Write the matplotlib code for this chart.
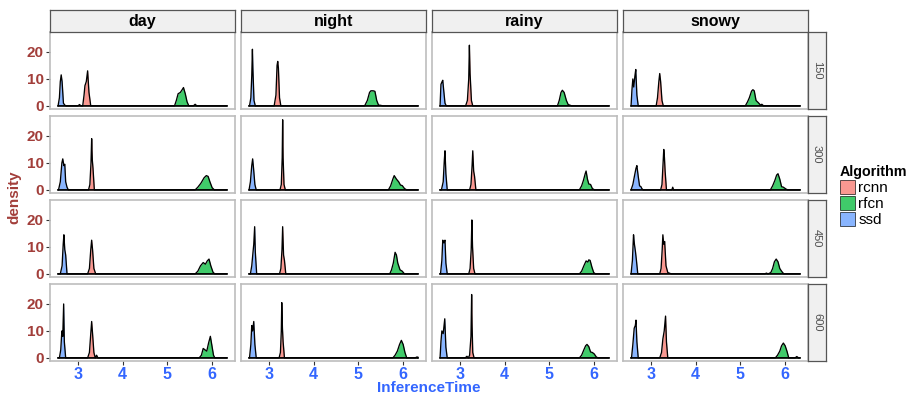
import matplotlib
matplotlib.use("Agg")
import matplotlib.pyplot as plt
from matplotlib.patches import Patch

plt.rcParams["font.family"] = ["Liberation Sans", "DejaVu Sans"]

# facets
conditions = ["day", "night", "rainy", "snowy"]
sizes = ["150", "300", "450", "600"]
algorithms = ["rcnn", "rfcn", "ssd"]

# full range of InferenceTime (density is evaluated over the whole scale)
x_min, x_max = 2.56, 6.33

# density curves, panel order: sizes (rows) x conditions (cols)
ssd_x = [
    [2.56, 2.59, 2.61, 2.63, 2.65, 2.68, 2.71, 2.74],
    [2.57, 2.60, 2.62, 2.635, 2.645, 2.67, 2.70],
    [2.56, 2.58, 2.60, 2.62, 2.64, 2.67, 2.70],
    [2.56, 2.58, 2.60, 2.62, 2.645, 2.665, 2.69, 2.72],
    [2.57, 2.61, 2.645, 2.665, 2.69, 2.71, 2.73, 2.76, 2.79],
    [2.56, 2.59, 2.62, 2.64, 2.66, 2.69, 2.72],
    [2.59, 2.63, 2.655, 2.67, 2.69, 2.72],
    [2.56, 2.60, 2.64, 2.67, 2.69, 2.72, 2.75, 2.78, 2.80, 2.83],
    [2.61, 2.65, 2.675, 2.69, 2.71, 2.73, 2.76],
    [2.59, 2.62, 2.645, 2.665, 2.685, 2.70, 2.73],
    [2.57, 2.60, 2.62, 2.645, 2.67, 2.69, 2.72],
    [2.56, 2.59, 2.615, 2.635, 2.66, 2.68, 2.71],
    [2.59, 2.62, 2.645, 2.665, 2.685, 2.70, 2.73],
    [2.57, 2.60, 2.62, 2.64, 2.665, 2.69, 2.72],
    [2.56, 2.58, 2.60, 2.63, 2.665, 2.69, 2.72],
    [2.57, 2.60, 2.63, 2.655, 2.67, 2.69, 2.72],
]
ssd_y = [
    [0, 3, 9, 11.5, 9, 1, 0.3, 0],
    [0, 3, 11, 21, 14, 2, 0],
    [0, 8, 8.8, 9.5, 6, 1, 0],
    [0, 6, 10, 7, 11, 13.5, 4, 0],
    [0, 3, 10, 11.5, 9, 9.5, 3, 1, 0],
    [0, 3, 9, 11.5, 8, 2, 0],
    [0, 3, 11, 14.5, 6, 0],
    [0, 2, 5.5, 8, 9, 5, 1.5, 1.2, 0.5, 0],
    [0, 3, 11, 14.5, 9, 7, 0],
    [0, 3, 7.5, 11, 17.5, 8, 0],
    [0, 5, 12.5, 11.5, 12.5, 4, 0],
    [0, 5, 14.5, 11, 8, 5, 0],
    [0, 3, 10, 8, 20, 6, 0],
    [0, 5, 12, 10, 13.5, 5, 0],
    [0, 6, 10, 9, 14.5, 4, 0],
    [0, 5, 11, 12, 14, 6, 0],
]

rcnn_x = [
    [3.00, 3.04, 3.07, 3.11, 3.14, 3.16, 3.19, 3.22, 3.25, 3.29],
    [3.12, 3.16, 3.185, 3.20, 3.215, 3.24, 3.27],
    [3.13, 3.17, 3.20, 3.215, 3.23, 3.26, 3.29],
    [3.12, 3.15, 3.18, 3.20, 3.22, 3.25, 3.28],
    [3.24, 3.27, 3.295, 3.31, 3.325, 3.34, 3.37],
    [3.25, 3.28, 3.30, 3.31, 3.32, 3.34, 3.37],
    [3.22, 3.25, 3.275, 3.29, 3.31, 3.33, 3.36],
    [3.22, 3.25, 3.275, 3.29, 3.305, 3.32, 3.35, 3.47, 3.49, 3.51],
    [3.22, 3.26, 3.29, 3.31, 3.33, 3.36, 3.40],
    [3.24, 3.27, 3.295, 3.31, 3.33, 3.35, 3.38],
    [3.20, 3.23, 3.255, 3.27, 3.285, 3.31, 3.34],
    [3.20, 3.23, 3.255, 3.27, 3.29, 3.31, 3.34, 3.38, 3.46],
    [3.22, 3.26, 3.29, 3.31, 3.33, 3.36, 3.39, 3.42, 3.45],
    [3.23, 3.26, 3.28, 3.29, 3.305, 3.32, 3.35],
    [3.12, 3.16, 3.19, 3.22, 3.25, 3.265, 3.275, 3.29, 3.32],
    [3.20, 3.24, 3.27, 3.30, 3.33, 3.35, 3.38],
]
rcnn_y = [
    [0, 0.5, 0, 0, 4, 7.5, 9, 13, 5, 0],
    [0, 4, 15, 16.5, 14, 3, 0],
    [0, 2, 10, 22.5, 12, 2, 0],
    [0, 3, 9, 12, 9, 2, 0],
    [0, 2, 10, 19, 11, 8, 0],
    [0, 2, 12, 26, 12, 2, 0],
    [0, 2, 9, 14.5, 7, 5, 0],
    [0, 2, 10, 15, 12, 7, 0, 0, 1, 0],
    [0, 2, 9, 12.5, 9, 2, 0],
    [0, 2, 9, 17.5, 7, 5, 0],
    [0, 2, 9, 20, 10, 2, 0],
    [0, 2, 9, 14.5, 11, 12, 3, 0.5, 0],
    [0, 2, 9, 13.5, 9, 2, 0, 1, 0],
    [0, 2, 10, 20.5, 11, 6, 0],
    [0, 0.6, 0, 1, 8, 23.5, 12, 2, 0],
    [0, 2, 7, 10, 15.5, 6, 0],
]

rfcn_x = [
    [5.16, 5.20, 5.24, 5.29, 5.33, 5.36, 5.40, 5.44, 5.48, 5.58, 5.62, 5.66],
    [5.14, 5.20, 5.25, 5.28, 5.33, 5.37, 5.41, 5.45, 5.50, 5.55],
    [5.18, 5.22, 5.26, 5.29, 5.33, 5.38, 5.42, 5.47, 5.50],
    [5.11, 5.16, 5.20, 5.25, 5.28, 5.31, 5.35, 5.40, 5.45, 5.48, 5.52],
    [5.62, 5.68, 5.75, 5.82, 5.87, 5.91, 5.95, 6.00, 6.05],
    [5.67, 5.72, 5.77, 5.80, 5.85, 5.90, 5.94, 5.98, 6.03, 6.08],
    [5.67, 5.72, 5.76, 5.80, 5.82, 5.85, 5.88, 5.92, 5.96, 6.01],
    [5.67, 5.72, 5.77, 5.81, 5.84, 5.88, 5.92, 5.96, 6.02, 6.06],
    [5.62, 5.68, 5.74, 5.80, 5.85, 5.89, 5.93, 5.97, 6.02, 6.06],
    [5.70, 5.74, 5.78, 5.82, 5.85, 5.88, 5.93, 5.98, 6.03],
    [5.67, 5.72, 5.77, 5.82, 5.86, 5.88, 5.91, 5.95, 5.99, 6.03],
    [5.55, 5.58, 5.62, 5.68, 5.72, 5.76, 5.80, 5.84, 5.88, 5.92, 5.97],
    [5.71, 5.76, 5.80, 5.84, 5.88, 5.92, 5.96, 5.99, 6.03, 6.06],
    [5.77, 5.82, 5.87, 5.92, 5.96, 6.00, 6.04, 6.08, 6.27, 6.30, 6.33],
    [5.67, 5.72, 5.77, 5.81, 5.84, 5.88, 5.92, 5.96, 6.00, 6.05, 6.09],
    [5.78, 5.83, 5.88, 5.92, 5.96, 6.00, 6.04, 6.08, 6.22, 6.26, 6.30],
]
rfcn_y = [
    [0, 2, 4.5, 5, 6, 6.8, 4.5, 1.5, 0, 0, 0.6, 0],
    [0, 2, 5, 5.6, 5.6, 5.4, 2, 0.3, 0.2, 0],
    [0, 2, 5, 5.8, 5, 2, 0.5, 0.2, 0],
    [0, 1.5, 3, 5.5, 6, 5.6, 2, 1.2, 0.3, 0.6, 0],
    [0, 1, 2.5, 4.5, 5.3, 5, 3, 0.8, 0],
    [0, 1.5, 4, 5.3, 4, 3, 1.8, 1.6, 0.5, 0],
    [0, 1.5, 3.5, 6, 7, 4, 2.2, 2, 0.5, 0],
    [0, 1.5, 3.5, 5.5, 6, 4, 1.2, 1, 0.3, 0],
    [0, 1, 3, 4.2, 3.6, 4.8, 5.5, 3, 0.6, 0],
    [0, 1.5, 4, 8, 7, 4, 1.5, 1, 0],
    [0, 1, 3, 4.8, 4.4, 5.2, 5, 2.5, 0.5, 0],
    [0, 0.3, 0, 0.5, 2, 4.5, 5.5, 4.5, 2, 1, 0],
    [0, 1, 3.5, 3, 2.5, 5.5, 8, 5, 1, 0],
    [0, 1, 2.5, 5, 6.5, 5, 2, 0, 0, 0.3, 0.3],
    [0, 1, 3, 4.5, 5, 4.2, 2.2, 2, 1.5, 0.3, 0],
    [0, 1, 2.5, 4.5, 5.5, 4.5, 2.5, 0, 0, 0.5, 0],
]

curves = {"rcnn": (rcnn_x, rcnn_y), "rfcn": (rfcn_x, rfcn_y), "ssd": (ssd_x, ssd_y)}
fill_colors = {"rcnn": "#F8766D", "rfcn": "#00BA38", "ssd": "#619CFF"}
FILL_ALPHA = 0.75

Y_COLOR = "#A23E3A"
X_COLOR = "#3366FF"

W, H = 910, 394
fig = plt.figure(figsize=(W / 100, H / 100), dpi=100)

col_left = [50, 241, 432, 623]
row_top = [32, 116, 200, 284]
pw, ph = 185, 77


def px_box(x0, y0, w, h):
    return [x0 / W, 1 - (y0 + h) / H, w / W, h / H]


for r, size in enumerate(sizes):
    for c, cond in enumerate(conditions):
        ax = fig.add_axes(px_box(col_left[c], row_top[r], pw, ph))
        idx = r * 4 + c
        for alg in algorithms:
            xs, ys = curves[alg]
            x = [x_min] + xs[idx] + [x_max]
            y = [0] + ys[idx] + [0]
            ax.fill_between(x, y, 0, color=fill_colors[alg], alpha=FILL_ALPHA, lw=0)
            ax.plot(x, y, color="black", lw=0.95)
        ax.set_xlim(2.38, 6.51)
        ax.set_ylim(-1.15, 27.4)
        ax.set_xticks([3, 4, 5, 6])
        ax.set_yticks([0, 10, 20])
        for sp in ax.spines.values():
            sp.set_color("#BDBDBD")
            sp.set_linewidth(1.2)
        ax.tick_params(length=3, width=0.8, color="#333333", pad=1.5)
        if c == 0:
            ax.set_yticklabels(["0", "10", "20"], fontsize=11,
                               fontweight="bold", color=Y_COLOR)
        else:
            ax.tick_params(axis="y", left=False, labelleft=False)
        if r == 3:
            ax.set_xticklabels(["3", "4", "5", "6"], fontsize=11.5,
                               fontweight="bold", color=X_COLOR)
        else:
            ax.tick_params(axis="x", bottom=False, labelbottom=False)

# top strips
for c, cond in enumerate(conditions):
    sax = fig.add_axes(px_box(col_left[c], 10, pw, 22))
    sax.set_xticks([])
    sax.set_yticks([])
    sax.set_facecolor("#F0F0F0")
    for sp in sax.spines.values():
        sp.set_color("#555555")
        sp.set_linewidth(0.9)
    sax.text(0.5, 0.47, cond, ha="center", va="center", fontsize=11.5,
             fontweight="bold", transform=sax.transAxes)

# right strips
for r, size in enumerate(sizes):
    sax = fig.add_axes(px_box(808, row_top[r], 18, ph))
    sax.set_xticks([])
    sax.set_yticks([])
    sax.set_facecolor("#F0F0F0")
    for sp in sax.spines.values():
        sp.set_color("#555555")
        sp.set_linewidth(0.9)
    sax.text(0.5, 0.5, size, ha="center", va="center", fontsize=8,
             rotation=270, color="#4D4D4D", transform=sax.transAxes)

# axis titles
fig.text(429 / W, 1 - 388 / H, "InferenceTime", ha="center", va="center",
         fontsize=11, fontweight="bold", color=X_COLOR)
fig.text(14 / W, 1 - 197 / H, "density", ha="center", va="center",
         rotation=90, fontsize=11, fontweight="bold", color=Y_COLOR)

# legend
handles = [Patch(facecolor=fill_colors[a], alpha=FILL_ALPHA, edgecolor="black",
                 linewidth=0.6, label=a) for a in algorithms]
leg = fig.legend(handles=handles, loc="upper left",
                 bbox_to_anchor=(840 / W, 1 - 165 / H), frameon=False,
                 title="Algorithm", fontsize=11, alignment="left",
                 title_fontproperties={"weight": "bold", "size": 10.3},
                 handlelength=1.0, handleheight=1.05, handletextpad=0.2,
                 labelspacing=0.05, borderaxespad=0, borderpad=0)

fig.savefig("out.png", dpi=100)
